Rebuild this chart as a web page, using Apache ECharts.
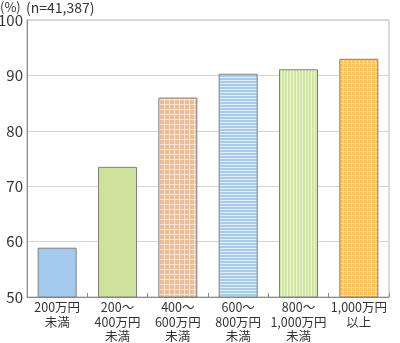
<!DOCTYPE html>
<html>
<head>
<meta charset="utf-8">
<script src="https://cdn.jsdelivr.net/npm/echarts@6/dist/echarts.min.js"></script>
<style>
html,body{margin:0;padding:0;background:#fff;}
#chart{width:400px;height:343px;}
</style>
</head>
<body>
<div id="chart"></div>
<script>
// Income brackets and share (%) for each
const categories = ['200万円\n未満', '200～\n400万円\n未満', '400～\n600万円\n未満', '600～\n800万円\n未満', '800～\n1,000万円\n未満', '1,000万円\n以上'];
const values = [58.9, 73.5, 86.0, 90.3, 91.1, 93.0];
const yTicks = [50, 60, 70, 80, 90, 100];

// Build small repeating canvas tiles used as bar fills
function tile(w, h, draw) {
  const c = document.createElement('canvas');
  c.width = w; c.height = h;
  const ctx = c.getContext('2d');
  draw(ctx, w, h);
  return { image: c, repeat: 'repeat' };
}
const checkOrange = tile(5, 5, (ctx, w, h) => {
  ctx.fillStyle = '#efbd95'; ctx.fillRect(0, 0, w, h);
  ctx.fillStyle = '#fbe6d4';
  ctx.fillRect(w - 1, 0, 1, h); ctx.fillRect(0, h - 1, w, 1);
});
const stripeBlue = tile(3, 3, (ctx, w, h) => {
  ctx.fillStyle = '#a6cdf0'; ctx.fillRect(0, 0, w, h);
  ctx.fillStyle = '#e3f0fb'; ctx.fillRect(0, h - 1, w, 1);
});
const stripeGreen = tile(3, 3, (ctx, w, h) => {
  ctx.fillStyle = '#d0e59e'; ctx.fillRect(0, 0, w, h);
  ctx.fillStyle = '#eef6da'; ctx.fillRect(w - 1, 0, 1, h);
});
const dotOrange = tile(4, 4, (ctx, w, h) => {
  ctx.fillStyle = '#ffc35a'; ctx.fillRect(0, 0, w, h);
  ctx.fillStyle = '#ffd98c';
  ctx.fillRect(w - 1, 0, 1, h); ctx.fillRect(0, h - 1, w, 1);
});
const fills = ['#a3caed', '#cee29b', checkOrange, stripeBlue, stripeGreen, dotOrange];

const font = '"Noto Sans CJK JP", "Noto Sans", sans-serif';
const chart = echarts.init(document.getElementById('chart'), null, { renderer: 'canvas' });
chart.setOption({
  animation: false,
  backgroundColor: '#fff',
  grid: { left: 27, right: 11, top: 20, bottom: 46, show: true, borderColor: '#b5b5b5', borderWidth: 1, containLabel: false, outerBoundsMode: 'none' },
  graphic: [
    { type: 'text', left: 0, top: 1, style: { text: '(%)', font: '13px ' + font, fill: '#333' } },
    { type: 'text', left: 26, top: 1, style: { text: '(n=41,387)', font: '14px ' + font, fill: '#333' } }
  ],
  xAxis: {
    type: 'category',
    data: categories,
    axisLine: { show: true, lineStyle: { color: '#8a8a8a', width: 1 } },
    axisTick: { show: true, inside: true, length: 4, lineStyle: { color: '#8a8a8a' } },
    axisLabel: { color: '#333', fontSize: 12.5, fontFamily: font, lineHeight: 14.5, margin: 3, interval: 0 }
  },
  yAxis: {
    type: 'value',
    min: yTicks[0], max: yTicks[yTicks.length - 1], interval: 10,
    axisLine: { show: true, lineStyle: { color: '#8a8a8a' } },
    axisTick: { show: false },
    splitLine: { show: true, lineStyle: { color: '#d4d4d4', width: 1.2 } },
    axisLabel: { color: '#333', fontSize: 15, fontFamily: font, margin: 4 }
  },
  series: [{
    type: 'bar',
    barWidth: 39,
    data: values.map((v, i) => ({
      value: v,
      itemStyle: { color: fills[i], borderColor: '#7f7f7f', borderWidth: 1 }
    }))
  }]
});
</script>
</body>
</html>
